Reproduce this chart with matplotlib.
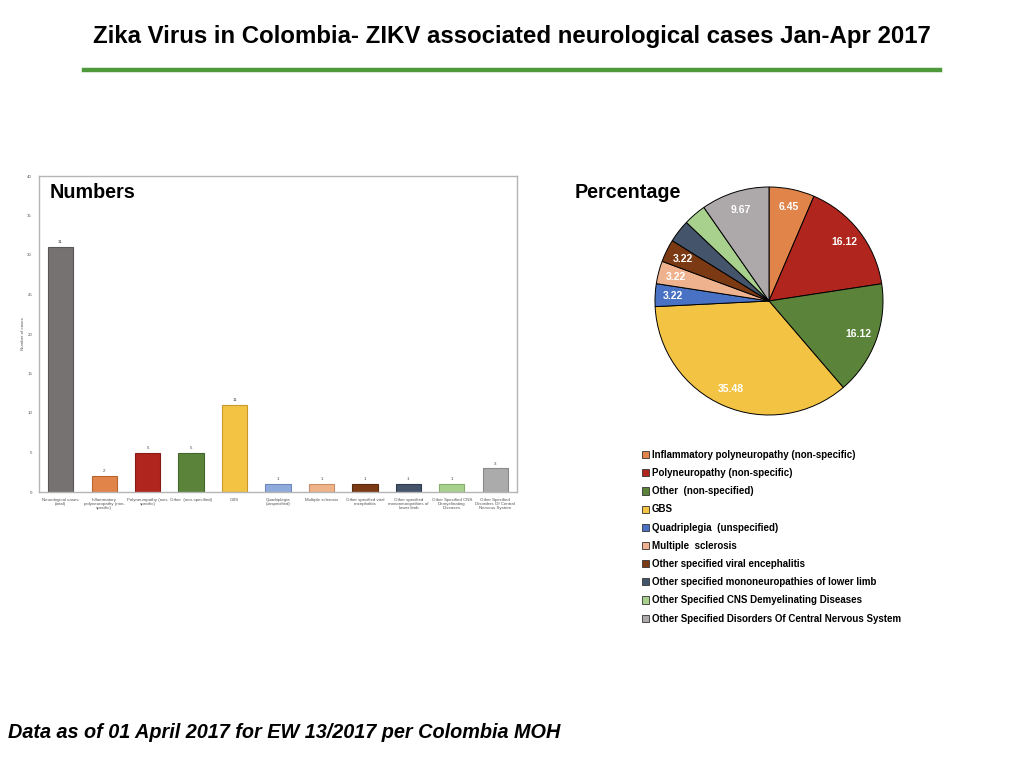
import matplotlib
matplotlib.use("Agg")
import matplotlib.pyplot as plt
from matplotlib.patches import Patch
import numpy as np

plt.rcParams['font.family'] = ['Liberation Sans', 'DejaVu Sans']

# ---------------- data ----------------
bar_categories = [
    "Neurological cases\n(total)",
    "Inflammatory\npolyneuropathy (non-\nspecific)",
    "Polyneuropathy (non-\nspecific)",
    "Other  (non-specified)",
    "GBS",
    "Quadriplegia\n(unspecified)",
    "Multiple sclerosis",
    "Other specified viral\nencephalitis",
    "Other specified\nmononeuropathies of\nlower limb",
    "Other Specified CNS\nDemyelinating\nDiseases",
    "Other Specified\nDisorders Of Central\nNervous System",
]
bar_values = [31, 2, 5, 5, 11, 1, 1, 1, 1, 1, 3]
bar_colors = ["#767271", "#E0844A", "#B0251D", "#5B843A", "#F3C344",
              "#8FAADC", "#EFB38A", "#7B3A14", "#44546A", "#A9D18E", "#ABABAB"]
bar_edges = ["#5a5655", "#b8642e", "#8a1a14", "#44662a", "#c89a2a",
             "#6f88b8", "#c98f66", "#5a2a0e", "#2f3b4c", "#86ad6c", "#8a8a8a"]

pie_labels = [
    "Inflammatory polyneuropathy (non-specific)",
    "Polyneuropathy (non-specific)",
    "Other  (non-specified)",
    "GBS",
    "Quadriplegia  (unspecified)",
    "Multiple  sclerosis",
    "Other specified viral encephalitis",
    "Other specified mononeuropathies of lower limb",
    "Other Specified CNS Demyelinating Diseases",
    "Other Specified Disorders Of Central Nervous System",
]
pie_values = [6.45, 16.12, 16.12, 35.48, 3.22, 3.22, 3.22, 3.22, 3.22, 9.67]
pie_texts = ["6.45", "16.12", "16.12", "35.48", "3.22", "3.22", "3.22", "", "", "9.67"]
pie_colors = ["#E0844A", "#B0251D", "#5B843A", "#F3C344", "#4A72C4",
              "#EEB38E", "#7B3A14", "#44546A", "#A9D18E", "#ADA9AB"]

y_ticks = [0, 5, 10, 15, 20, 25, 30, 35, 40]

# ---------------- figure ----------------
W, H = 1024, 768
fig = plt.figure(figsize=(W / 100, H / 100), dpi=100)
fig.patch.set_facecolor("white")

def fx(px):
    return px / W

def fy(py):
    return 1 - py / H

# Title
fig.text(fx(512), fy(37), "Zika Virus in Colombia- ZIKV associated neurological cases Jan-Apr 2017",
         ha="center", va="center", fontsize=17.3, fontweight="bold",
         family=["Liberation Sans Narrow", "Liberation Sans", "DejaVu Sans"])
fig.add_artist(plt.Line2D([fx(84), fx(940)], [fy(70), fy(70)], color="#4E9A3A", lw=3.2))

# Footer
fig.text(fx(8), fy(733), "Data as of 01 April 2017 for EW 13/2017 per Colombia MOH",
         ha="left", va="center", fontsize=14.3, fontweight="bold", style="italic")

# ---------------- bar chart ----------------
ax = fig.add_axes([fx(39), fy(492), (517 - 39) / W, (492 - 176) / H])
x = np.arange(len(bar_values))
bars = ax.bar(x, bar_values, width=0.58, color=bar_colors, edgecolor=bar_edges, linewidth=0.8)
ax.set_xlim(-0.5, len(bar_values) - 0.5)
ax.set_ylim(0, 40)
ax.set_yticks(y_ticks)
ax.set_yticklabels([str(t) for t in y_ticks], fontsize=3.2, color="#555555")
ax.set_xticks(x)
ax.set_xticklabels(bar_categories, fontsize=3.2, color="#555555", linespacing=1.1)
ax.tick_params(axis="x", length=0, pad=4)
ax.tick_params(axis="y", length=0, pad=5)
for s in ax.spines.values():
    s.set_color("#b5b5b5")
    s.set_linewidth(1.0)
ax.set_ylabel("Number of cases", fontsize=3.2, color="#555555", labelpad=1.5)
for rect, v in zip(bars, bar_values):
    ax.annotate(str(v), (rect.get_x() + rect.get_width() / 2, rect.get_height()),
                xytext=(0, 2), textcoords="offset points", ha="center", va="bottom",
                fontsize=3.2, color="#444444")

fig.text(fx(50), fy(193), "Numbers", ha="left", va="center", fontsize=14.2, fontweight="bold")
fig.text(fx(575), fy(193), "Percentage", ha="left", va="center", fontsize=14.2, fontweight="bold")

# ---------------- pie chart ----------------
cx, cy, r = 769, 301, 114
pax = fig.add_axes([fx(cx - r), fy(cy + r), 2 * r / W, 2 * r / H])
wedges, _ = pax.pie(pie_values, colors=pie_colors, startangle=90, counterclock=False,
                    wedgeprops=dict(edgecolor="black", linewidth=0.7))
for w, t in zip(wedges, pie_texts):
    if not t:
        continue
    ang = np.deg2rad((w.theta1 + w.theta2) / 2)
    pax.text(0.84 * np.cos(ang), 0.84 * np.sin(ang), t, ha="center", va="center",
             fontsize=7.5, fontweight="bold", color="white")
pax.set_xlim(-1, 1)
pax.set_ylim(-1, 1)
pax.set_aspect("equal")
pax.axis("off")

# Legend
handles = [Patch(facecolor=c, edgecolor="#333333", linewidth=0.6) for c in pie_colors]
leg = fig.legend(handles, pie_labels, loc="upper left",
                 bbox_to_anchor=(fx(642), fy(450)), frameon=False,
                 prop=dict(size=7.0, weight="bold"), handlelength=0.75, handleheight=0.75,
                 handletextpad=0.25, labelspacing=0.84, borderaxespad=0, borderpad=0)

fig.savefig("out.png", dpi=100)
